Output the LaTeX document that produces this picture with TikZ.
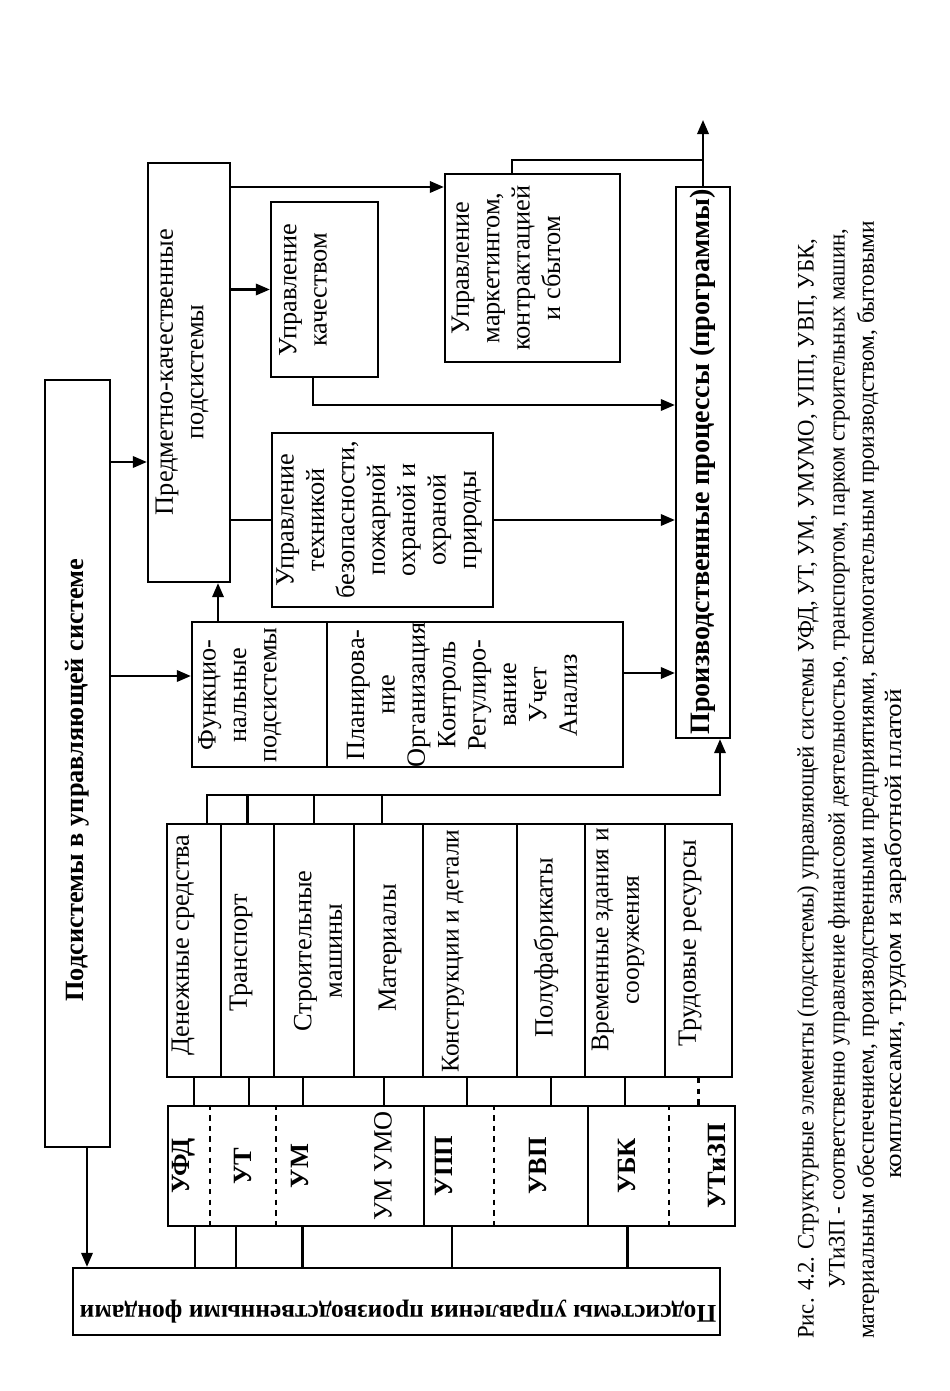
\documentclass[tikz,border=0pt]{standalone}
\usepackage{fontspec}
\setmainfont{Liberation Serif}
\usetikzlibrary{arrows.meta,fit}

\begin{document}
\begin{tikzpicture}[x=0.02cm,y=-0.02cm,line width=1.3pt,
  box/.style={draw,inner sep=0pt},
  cell/.style={inner sep=0pt},
  lbl/.style={rotate=90,align=center,inner sep=0pt,font=\fontsize{15}{17.3}\selectfont},
  code/.style={lbl,font=\fontsize{15}{17.3}\selectfont\bfseries},
  captxt/.style={rotate=90,anchor=west,inner sep=0pt,font=\fontsize{13.5}{15}\selectfont},
  arr/.style={-{Triangle[length=8pt,width=6.5pt]}}]
\useasboundingbox (0,0) rectangle (949,1391);

% boxes
\node[box,fit={(45,380) (110,1147)}] (upr) {};
\node[box,fit={(73,1268) (720,1335)}] (fond) {};
\node[box,fit={(148,163) (230,582)}] (pred) {};
\node[box,fit={(271,202) (378,377)}] (kach) {};
\node[box,fit={(272,433) (493,607)}] (tech) {};
\node[box,fit={(445,174) (620,362)}] (mark) {};
\node[box,fit={(192,622) (327,767)}] (func) {};
\node[box,fit={(327,622) (623,767)}] (plan) {};
\node[box,fit={(676,187) (730,738)}] (proc) {};

% resources
\node[box,fit={(167,824) (221,1077)}] (den) {};
\node[box,fit={(221,824) (274,1077)}] (trans) {};
\node[box,fit={(274,824) (354,1077)}] (strm) {};
\node[box,fit={(354,824) (423,1077)}] (mat) {};
\node[box,fit={(423,824) (517,1077)}] (konstr) {};
\node[box,fit={(517,824) (585,1077)}] (polu) {};
\node[box,fit={(585,824) (665,1077)}] (vrem) {};
\node[box,fit={(665,824) (732,1077)}] (trud) {};

% control subsystems
\node[box,fit={(168,1106) (735,1226)}] (ustrip) {};
\node[cell,fit={(168,1106) (209,1226)}] (ufd) {};
\node[cell,fit={(209,1106) (275,1226)}] (ut) {};
\node[cell,fit={(275,1106) (330,1226)}] (um) {};
\node[cell,fit={(330,1106) (425,1226)}] (umo) {};
\node[cell,fit={(425,1106) (493,1226)}] (upp) {};
\node[cell,fit={(493,1106) (587,1226)}] (uvp) {};
\node[cell,fit={(587,1106) (668,1226)}] (ubk) {};
\node[cell,fit={(668,1106) (735,1226)}] (utzp) {};
\draw[dashed] (ufd.north east) -- (ufd.south east);
\draw[dashed] (ut.north east) -- (ut.south east);
\draw (upp.north west) -- (upp.south west);
\draw[dashed] (upp.north east) -- (upp.south east);
\draw (uvp.north east) -- (uvp.south east);
\draw[dashed] (ubk.north east) -- (ubk.south east);

% labels
\node[lbl,font=\fontsize{15}{17}\selectfont\bfseries] (upr-t) at (77,780) {Подсистемы в управляющей системе};
\node[rotate=180,inner sep=0pt,font=\fontsize{14.5}{17}\selectfont\bfseries] (fond-t) at (398,1312) {Подсистемы управления производственными фондами};
\node[lbl] (pred-t) at (182,372) {Предметно-качественные\\подсистемы};
\node[lbl] (kach-t) at (303,290) {Управление\\качеством};
\node[lbl] (tech-t) at (379,520) {Управление\\техникой\\безопасности,\\пожарной\\охраной и\\охраной\\природы};
\node[lbl] (mark-t) at (506,268) {Управление\\маркетингом,\\контрактацией\\и сбытом};
\node[lbl] (func-t) at (240,695) {Функцио-\\нальные\\подсистемы};
\node[lbl] (plan-t) at (462,695) {Планирова-\\ние\\Организация\\Контроль\\Регулиро-\\вание\\Учет\\Анализ};
\node[lbl,font=\fontsize{16}{18}\selectfont\bfseries] (proc-t) at (703,462) {Производственные процессы (программы)};
\node[lbl] (den-t) at (183,945) {Денежные средства};
\node[lbl] (trans-t) at (241,953) {Транспорт};
\node[lbl] (strm-t) at (318,951) {Строительные\\машины};
\node[lbl] (mat-t) at (390,948) {Материалы};
\node[lbl,font=\fontsize{14.5}{17}\selectfont] (konstr-t) at (453,951) {Конструкции и детали};
\node[lbl] (polu-t) at (546,948) {Полуфабрикаты};
\node[lbl,font=\fontsize{14.5}{17.3}\selectfont] (vrem-t) at (618,940) {Временные здания и\\сооружения};
\node[lbl] (trud-t) at (690,943) {Трудовые ресурсы};
\node[code] (ufd-t) at (184,1166) {УФД};
\node[code] (ut-t) at (243,1166) {УТ};
\node[code] (um-t) at (300,1166) {УМ};
\node[lbl] (umo-t) at (383,1166) {УМ УМО};
\node[code] (upp-t) at (444,1166) {УПП};
\node[code] (uvp-t) at (538,1166) {УВП};
\node[code] (ubk-t) at (627,1166) {УБК};
\node[code] (utzp-t) at (717,1166) {УТиЗП};

% routing points
\coordinate (y462) at (0,462);
\coordinate (y676) at (0,676);
\coordinate (y187) at (0,187);
\coordinate (y673) at (0,673);
\coordinate (y405) at (0,405);
\coordinate (rbus) at (0,795);
\coordinate (outj) at (703,160);
\coordinate (out) at (703,120);

% connectors
\draw[arr] (upr.east |- y462) -- (pred.west |- y462);
\draw[arr] (upr.east |- y676) -- (func.west |- y676);
\draw[arr] ([xshift=0.19cm]upr.south) -- ([xshift=0.19cm]upr.south |- fond.north);
\draw[arr] ([xshift=-0.83cm]func.north) -- ([xshift=-0.83cm]func.north |- pred.south);
\draw[arr] (pred.east |- y187) -- (mark.west |- y187);
\draw[arr] (pred.east |- kach.west) -- (kach.west);
\draw (pred.east |- tech.west) -- (tech.west);
\draw[arr] (tech.east) -- (tech.east -| proc.west);
\draw[arr] (plan.east |- y673) -- (proc.west |- y673);
\draw[arr] ([xshift=-0.23cm]kach.south) |- (proc.west |- y405);
\draw ([xshift=-0.41cm]mark.north) |- (outj);
\draw[arr] (proc.north) -- (out);
\draw[arr] ([xshift=0.26cm]den.north) |- ([xshift=0.34cm]proc.south |- rbus) -- ([xshift=0.34cm]proc.south);
\foreach \n/\s in {trans/0,strm/0,mat/-0.13}
  \draw ([xshift=\s cm]\n.north) -- ([xshift=\s cm]\n.north |- rbus);
\foreach \n/\s in {den/0,trans/0.03,strm/-0.22,mat/-0.09,konstr/-0.06}
  \draw ([xshift=\s cm]\n.south) -- ([xshift=\s cm]\n.south |- ustrip.north);
\draw (polu.south) -- (polu.south |- ustrip.north);
\draw (vrem.south) -- (vrem.south |- ustrip.north);
\draw[dashed] (trud.south) -- (trud.south |- ustrip.north);
\foreach \n/\s in {ufd/0.13,ut/-0.12,um/0,upp/-0.14,ubk/0}
  \draw ([xshift=\s cm]\n.south) -- ([xshift=\s cm]\n.south |- fond.north);

% caption
\node[captxt] (cap1) at (808,1340) {\resizebox{22cm}{\height}{Рис. 4.2. Структурные элементы (подсистемы) управляющей системы УФД, УТ, УМ, УМУМО, УПП, УВП, УБК,}};
\node[captxt] (cap2) at (839,1290) {\resizebox{21.2cm}{\height}{УТиЗП - соответственно управление финансовой деятельностью, транспортом, парком строительных машин,}};
\node[captxt] (cap3) at (868,1340) {\resizebox{22.36cm}{\height}{материальным обеспечением, производственными предприятиями, вспомогательным производством, бытовыми}};
\node[captxt] (cap4) at (896,1180) {\resizebox{9.8cm}{\height}{комплексами, трудом и заработной платой}};
\end{tikzpicture}
\end{document}
